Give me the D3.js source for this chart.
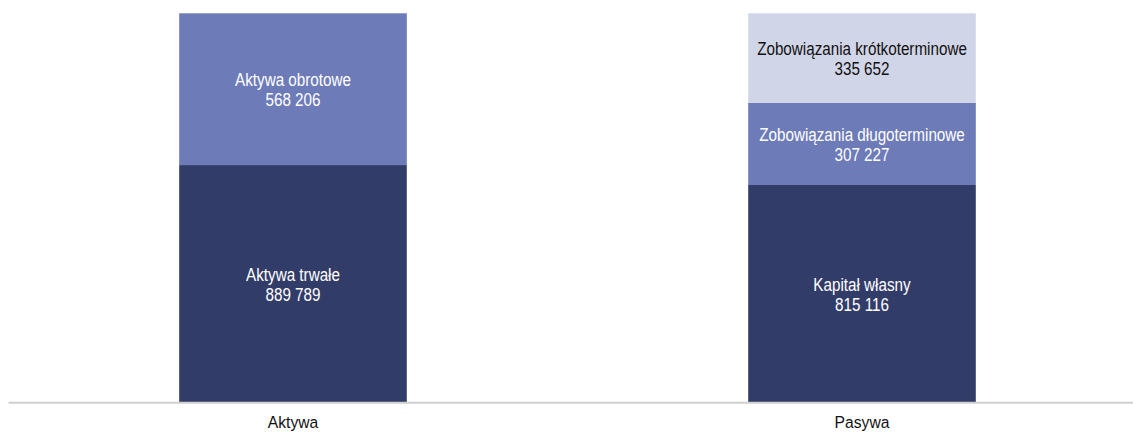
<!DOCTYPE html>
<html lang="pl">
<head>
<meta charset="UTF-8">
<title>Aktywa i pasywa</title>
<script src="https://d3js.org/d3.v7.min.js"></script>
<style>
  body { margin: 0; background: #fff; }
  text { font-family: "Liberation Sans Narrow", "Arial Narrow", "Liberation Sans", Arial, sans-serif; }
</style>
</head>
<body>
<svg id="chart" width="1133" height="434"></svg>
<script>
// categories and stacked segments (bottom to top)
const categories = ["Aktywa", "Pasywa"];
const segmentNames = [
  ["Aktywa trwałe", "Aktywa obrotowe"],
  ["Kapitał własny", "Zobowiązania długoterminowe", "Zobowiązania krótkoterminowe"]
];
const segmentValues = [
  [889789, 568206],
  [815116, 307227, 335652]
];
const segmentColors = ["#323c68", "#6d7bb8", "#d1d5e8"];
const labelColors = ["#ffffff", "#ffffff", "#111111"];

const svg = d3.select("#chart");
const baseY = 402.7, topY = 13.3;
// fake a narrow face: no Arial Narrow installed, so squeeze Liberation Sans
const squeeze = 0.87;

const x = d3.scaleBand()
  .domain(categories)
  .range([8.5, 1146.5])
  .paddingInner(0.6)
  .paddingOuter(0.3);

const totals = segmentValues.map(v => d3.sum(v));
const y = d3.scaleLinear()
  .domain([0, d3.max(totals)])
  .range([baseY, topY]);

const fmt = v => d3.format(",")(v).replace(/,/g, " ");

categories.forEach((cat, ci) => {
  let acc = 0;
  const g = svg.append("g");
  segmentValues[ci].forEach((v, si) => {
    const y0 = y(acc), y1 = y(acc + v);
    acc += v;
    g.append("rect")
      .attr("x", x(cat))
      .attr("y", y1)
      .attr("width", x.bandwidth())
      .attr("height", y0 - y1)
      .attr("fill", segmentColors[si]);

    const cx = x(cat) + x.bandwidth() / 2;
    const cy = (y0 + y1) / 2;
    const t = g.append("text")
      .attr("transform", `translate(${cx},${cy}) scale(${squeeze},1)`)
      .attr("text-anchor", "middle")
      .attr("fill", labelColors[si])
      .style("font-size", "17.5px");
    t.append("tspan").attr("x", 0).attr("y", -3).text(segmentNames[ci][si]);
    t.append("tspan").attr("x", 0).attr("y", 17).text(fmt(v));
  });
});

// baseline axis
const axis = svg.append("g")
  .attr("transform", `translate(0,${baseY})`)
  .call(d3.axisBottom(x).tickSize(0).tickPadding(13.6));
axis.select(".domain")
  .attr("d", `M8.5,0H1133`)
  .attr("stroke", "#cfcfcf")
  .attr("stroke-width", 2);
axis.selectAll(".tick text")
  .attr("transform", "scale(0.95,1)")
  .attr("fill", "#111")
  .style("font-size", "16.5px")
  .style("font-family", "\"Liberation Sans Narrow\", \"Arial Narrow\", \"Liberation Sans\", Arial, sans-serif");
</script>
</body>
</html>
